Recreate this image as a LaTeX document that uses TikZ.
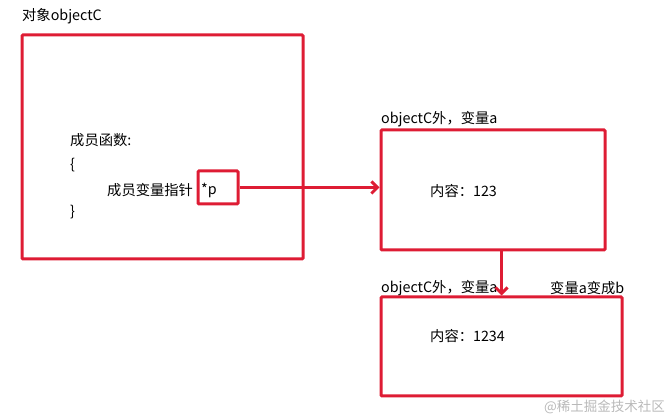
\documentclass[tikz,border=0pt]{standalone}
\usepackage{fontspec}
\newfontfamily\cjk{Noto Sans CJK SC}
\usetikzlibrary{positioning,arrows.meta}
\definecolor{boxred}{RGB}{222,28,52}
\definecolor{marktext}{RGB}{185,185,185}
\begin{document}
\begin{tikzpicture}[x=1pt,y=-1pt,every node/.style={font=\cjk\fontsize{14.3}{16}\selectfont},
    membox/.style={draw=boxred,line width=3pt,rounded corners=1pt,inner sep=0pt},
    lbl/.style={anchor=west,inner sep=0pt},
    link/.style={draw=boxred,line width=3pt,-{Straight Barb[length=6pt,width=12pt]}}]
  \useasboundingbox (0,0) rectangle (670,419);
  % object C
  \node[lbl] (objC) at (22,16) {对象objectC};
  \node[membox,minimum width=281pt,minimum height=224pt] (boxC) at (162.5,147) {};
  \node[lbl] (func) at (70,140) {成员函数:};
  \node[lbl] (lbrace) at (70,165) {\{};
  \node[lbl] (member) at (107,190) {成员变量指针};
  \node[lbl] (ptr) at (201,190) {*p};
  \node[lbl] (rbrace) at (70,212) {\}};
  \node[membox,minimum width=40pt,minimum height=33pt] (pbox) at (218,187.5) {};
  % variable a
  \node[lbl] (varAlbl) at (381,119) {objectC外，变量a};
  \node[membox,minimum width=224pt,minimum height=120pt] (varA) at (493,190) {};
  \node[lbl] (contA) at (430,191) {内容：123};
  % variable a -> b
  \node[lbl] (varBlbl) at (381,288) {objectC外，变量a};
  \node[lbl] (varBnote) at (550,288) {变量a变成b};
  \node[membox,minimum width=241pt,minimum height=99pt] (varB) at (501.5,346.5) {};
  \node[lbl] (contB) at (430,336) {内容：1234};
  \node[anchor=east,inner sep=0pt,text=marktext,font=\cjk\fontsize{13.5}{15}\selectfont] (mark) at (665,407) {@稀土掘金技术社区};
  \draw[link] (pbox.east) -- (pbox.east -| varA.west);
  \draw[link] (varA.south -| varB.north) -- (varB.north);
\end{tikzpicture}
\end{document}
